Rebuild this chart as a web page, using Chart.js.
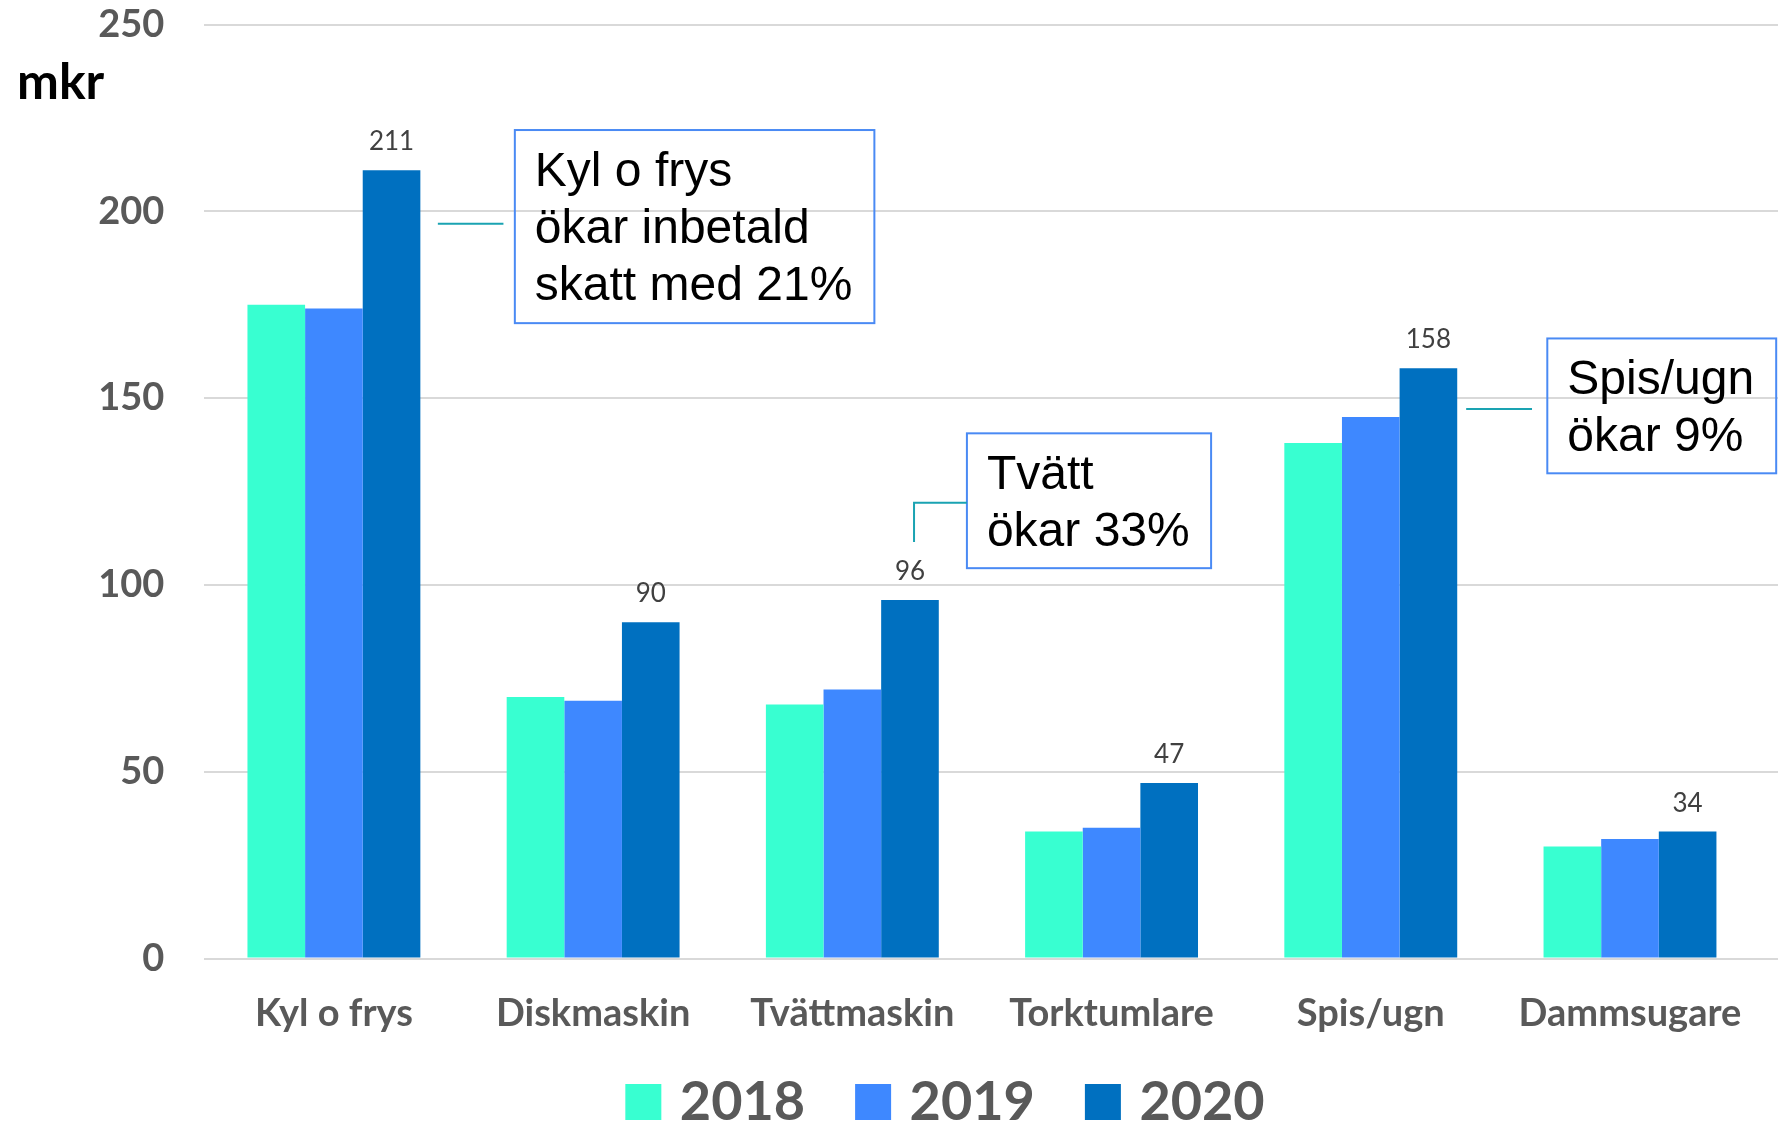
<!DOCTYPE html>
<html><head><meta charset="utf-8">
<script src="https://cdn.jsdelivr.net/npm/chart.js@4/dist/chart.umd.min.js"></script>
<style>html,body{margin:0;padding:0;background:#fff;overflow:hidden}</style>
</head><body>
<canvas id="c" width="1778" height="1124"></canvas>
<script>
// ---- data ----
const categories = ['Kyl o frys', 'Diskmaskin', 'Tvättmaskin', 'Torktumlare', 'Spis/ugn', 'Dammsugare'];
const seriesNames = ['2018', '2019', '2020'];
const values2018 = [175, 70, 68, 34, 138, 30];
const values2019 = [174, 69, 72, 35, 145, 32];
const values2020 = [211, 90, 96, 47, 158, 34];
const yTickValues = [0, 50, 100, 150, 200, 250];
const yUnitLabel = 'mkr';
const noteTexts = [
  ['Kyl o frys', 'ökar inbetald', 'skatt med 21%'],
  ['Tvätt', 'ökar 33%'],
  ['Spis/ugn', 'ökar 9%']
];

// ---- styling / layout ----
const colors = ['#38FFD1', '#3E88FF', '#0070C0'];
const gray = '#595959';
const FONT = 'Lato, "Open Sans", sans-serif';
// annotation boxes in data coordinates (x: category index, y: value)
const noteBoxes = [
  {x0: 0.698, x1: 2.085, yTop: 221.8, yBot: 170.1, leader: [[0.401, 196.7], [0.654, 196.7]]},
  {x0: 2.442, x1: 3.384, yTop: 140.6, yBot: 104.5, leader: [[2.442, 122.0], [2.238, 122.0], [2.238, 111.5]]},
  {x0: 4.681, x1: 5.564, yTop: 166.0, yBot: 129.9, leader: [[4.368, 147.1], [4.622, 147.1]]}
];

const extras = {
  id: 'extras',
  beforeDatasetsDraw(chart) {
    // gridlines run on to the right edge of the picture
    const ctx = chart.ctx, ys = chart.scales.y, area = chart.chartArea;
    ctx.save();
    ctx.strokeStyle = '#D9D9D9';
    ctx.lineWidth = 2;
    ys.ticks.forEach(t => {
      const py = Math.round(ys.getPixelForValue(t.value));
      ctx.beginPath();
      ctx.moveTo(area.right - 1, py);
      ctx.lineTo(chart.width, py);
      ctx.stroke();
    });
    ctx.restore();
  },
  afterDatasetsDraw(chart) {
    const ctx = chart.ctx;
    const xs = chart.scales.x, ys = chart.scales.y;
    ctx.save();
    // value labels on 2020 bars
    const meta = chart.getDatasetMeta(2);
    ctx.font = '26px ' + FONT;
    ctx.fillStyle = '#404040';
    ctx.textAlign = 'center';
    ctx.textBaseline = 'alphabetic';
    meta.data.forEach((bar, i) => {
      ctx.fillText(String(chart.data.datasets[2].data[i]), bar.x, bar.y - 20);
    });
    // annotations
    noteBoxes.forEach((b, k) => {
      const l = xs.getPixelForValue(b.x0), r = xs.getPixelForValue(b.x1);
      const t = ys.getPixelForValue(b.yTop), bt = ys.getPixelForValue(b.yBot);
      ctx.strokeStyle = '#4A8AF4';
      ctx.lineWidth = 2;
      ctx.strokeRect(l, t, r - l, bt - t);
      ctx.strokeStyle = '#1AA3B2';
      ctx.lineWidth = 2;
      ctx.beginPath();
      b.leader.forEach((p, j) => {
        const px = xs.getPixelForValue(p[0]), py = ys.getPixelForValue(p[1]);
        if (j === 0) ctx.moveTo(px, py); else ctx.lineTo(px, py);
      });
      ctx.stroke();
      ctx.fillStyle = '#000';
      ctx.font = '48px "Liberation Sans", Arial, sans-serif';
      ctx.textAlign = 'left';
      noteTexts[k].forEach((line, j) => {
        ctx.fillText(line, l + 20, t + 56 + j * 57);
      });
    });
    // unit label
    ctx.font = 'bold 50px ' + FONT;
    ctx.fillStyle = '#000';
    ctx.fillText(yUnitLabel, 17, 99);
    // legend
    ctx.font = 'bold 54px ' + FONT;
    const widths = seriesNames.map(s => ctx.measureText(s).width);
    const total = widths.reduce((a, w) => a + 36 + 18.5 + w, 0) + 50 * (seriesNames.length - 1);
    let x = 945 - total / 2;
    seriesNames.forEach((s, i) => {
      ctx.fillStyle = colors[i];
      ctx.fillRect(x, 1084, 36, 36);
      ctx.fillStyle = gray;
      ctx.fillText(s, x + 36 + 18.5, 1120);
      x += 36 + 18.5 + widths[i] + 50;
    });
    ctx.restore();
  }
};

new Chart(document.getElementById('c'), {
  type: 'bar',
  data: {
    labels: categories,
    datasets: [values2018, values2019, values2020].map((d, i) => ({
      label: seriesNames[i],
      data: d,
      backgroundColor: colors[i],
      borderWidth: 0,
      barPercentage: 1,
      categoryPercentage: 0.667
    }))
  },
  options: {
    responsive: false,
    animation: false,
    devicePixelRatio: 1,
    layout: {padding: {top: 24.7, right: 18.4, bottom: 0, left: 0}},
    plugins: {legend: {display: false}, tooltip: {enabled: false}},
    scales: {
      x: {
        grid: {display: false, drawTicks: false},
        border: {display: false},
        ticks: {font: {family: FONT, size: 38, weight: 'bold'}, color: gray, padding: 32, maxRotation: 0, autoSkip: false},
        afterFit(s) { s.height = 165.5; s.paddingLeft = 0; s.paddingRight = 0; }
      },
      y: {
        min: 0, max: 250,
        afterBuildTicks(s) { s.ticks = yTickValues.map(v => ({value: v})); },
        grid: {color: '#D9D9D9', lineWidth: 2, drawTicks: false},
        border: {display: false},
        ticks: {font: {family: FONT, size: 38, weight: 'bold'}, color: gray, padding: 40},
        afterFit(s) { s.width = 204.3; s.paddingTop = 0; s.paddingBottom = 0; }
      }
    }
  },
  plugins: [extras]
});
</script>
</body></html>
